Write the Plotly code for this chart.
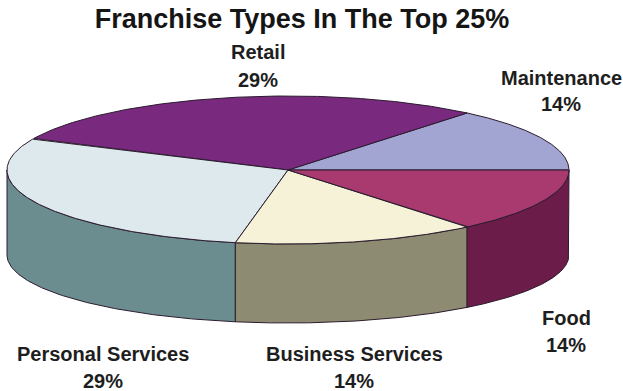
import numpy as np
import plotly.graph_objects as go

# Slice data, listed counter-clockwise starting from the 3 o'clock direction
categories = ["Maintenance", "Retail", "Personal Services", "Business Services", "Food"]
shares = [14, 29, 29, 14, 14]

top_colors = ["#A2A4D2", "#7A2A7E", "#DDE9EC", "#F5F2D7", "#A93A70"]
side_colors = ["#6E6F99", "#521A55", "#6B8D8F", "#8D8B72", "#6C1C49"]

# Label anchors (pixel space of the 623x391 canvas)
label_pos = {
    "Retail": (258, 52, 80),
    "Maintenance": (561, 78, 104),
    "Food": (566, 318, 345),
    "Personal Services": (103, 354, 381),
    "Business Services": (354, 354, 381),
}

W, H = 623, 391
cx, cy = 288, 170          # centre of the top face
a, b = 281, 74             # semi-axes of the top face
cy_bot, b_bot = 255, 68    # bottom rim ellipse
edge = "#2B1B2E"

total = float(sum(shares))
bounds = np.concatenate([[0.0], np.cumsum(shares) / total * 360.0])


def top_xy(t):
    r = np.radians(t)
    return cx + a * np.cos(r), cy - b * np.sin(r)


def bot_xy(t):
    r = np.radians(t)
    return cx + a * np.cos(r), cy_bot - b_bot * np.sin(r)


fig = go.Figure()

# Visible rim (front half of the disc, 180..360 degrees)
for i, cat in enumerate(categories):
    t0, t1 = bounds[i], bounds[i + 1]
    s0, s1 = max(t0, 180.0), min(t1, 360.0)
    if s0 >= s1:
        continue
    ts = np.linspace(s0, s1, 120)
    xt, yt = top_xy(ts)
    xb, yb = bot_xy(ts[::-1])
    xs = np.concatenate([xt, xb, xt[:1]])
    ys = np.concatenate([yt, yb, yt[:1]])
    fig.add_trace(go.Scatter(
        x=xs, y=ys, mode="lines", fill="toself",
        fillcolor=side_colors[i], line=dict(color=edge, width=1),
        hoverinfo="skip", showlegend=False,
    ))

# Top faces
for i, cat in enumerate(categories):
    t0, t1 = bounds[i], bounds[i + 1]
    ts = np.linspace(t0, t1, 200)
    xt, yt = top_xy(ts)
    xs = np.concatenate([[cx], xt, [cx]])
    ys = np.concatenate([[cy], yt, [cy]])
    fig.add_trace(go.Scatter(
        x=xs, y=ys, mode="lines", fill="toself",
        fillcolor=top_colors[i], line=dict(color=edge, width=1),
        hoverinfo="skip", showlegend=False, name=cat,
    ))

# Category labels with percentages
font = dict(family="Liberation Sans, Arial, sans-serif", size=20, color="#1E1E1E")
for cat, share in zip(categories, shares):
    x, y1, y2 = label_pos[cat]
    fig.add_annotation(x=x, y=y1, text=f"<b>{cat}</b>", showarrow=False,
                       xanchor="center", yanchor="middle", font=font)
    fig.add_annotation(x=x, y=y2, text=f"<b>{share}%</b>", showarrow=False,
                       xanchor="center", yanchor="middle", font=font)

fig.update_layout(
    width=W, height=H,
    margin=dict(l=0, r=0, t=0, b=0),
    paper_bgcolor="white", plot_bgcolor="white",
    title=dict(
        text="<b>Franchise Types In The Top 25%</b>",
        x=302 / W, xanchor="center",
        y=1 - 19 / H, yanchor="middle", yref="container",
        font=dict(family="Liberation Sans, Arial, sans-serif", size=27, color="#151515"),
    ),
    xaxis=dict(range=[0, W], visible=False, fixedrange=True),
    yaxis=dict(range=[H, 0], visible=False, fixedrange=True),
)

fig.write_html("out.html")
